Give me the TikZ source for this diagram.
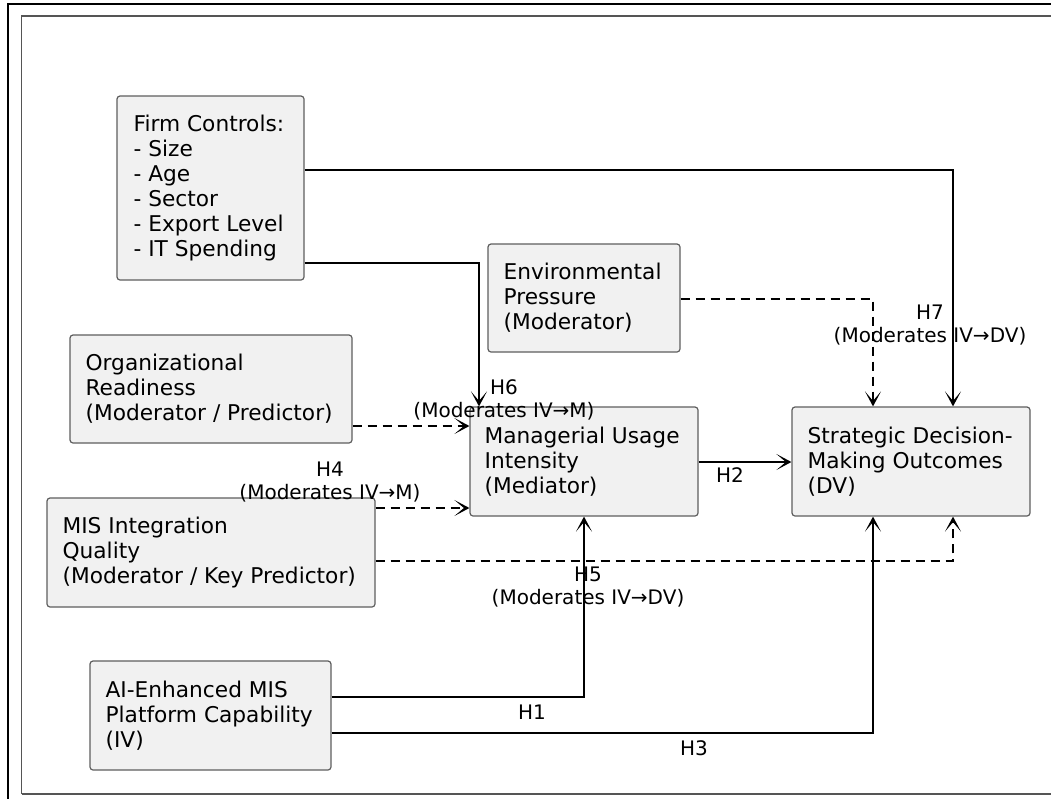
\documentclass[tikz,border=0pt]{standalone}
\usepackage{fontspec}
\setmainfont{DejaVu Sans}
\usetikzlibrary{arrows.meta}

\definecolor{boxfill}{HTML}{F1F1F1}
\definecolor{boxline}{HTML}{5E5E5E}
\definecolor{framegray}{HTML}{555555}

\tikzset{
  box/.style={draw=boxline, line width=1.2pt, fill=boxfill, rounded corners=3pt,
              rectangle, inner sep=0pt},
  boxtext/.style={anchor=west, align=left, inner sep=0pt,
                  font=\fontsize{21.7}{25}\selectfont},
  hlabel/.style={align=center, inner sep=0pt,
                 font=\fontsize{20}{23.5}\selectfont},
  link/.style={line width=1.5pt, draw=black,
               -{Stealth[length=15pt, width=16pt, inset=9.5pt]}},
  modlink/.style={link, dash pattern=on 9pt off 6pt},
}

\begin{document}
\begin{tikzpicture}[x=1pt, y=-1pt]
  \useasboundingbox (0,0) rectangle (1051,798);
  \clip (0,0) rectangle (1051,798);

  % page frames
  \draw[line width=2.2pt, black] (8,1200) -- (8,4) -- (1200,4);
  \draw[line width=1.6pt, framegray] (21.5,794) -- (21.5,16) -- (1200,16);
  \draw[line width=1.6pt, framegray] (21.5,794) -- (1200,794);

  % construct boxes
  \node[box, minimum width=187pt, minimum height=184pt] (firm) at (210.5,188) {};
  \node[box, minimum width=192pt, minimum height=108pt] (env)  at (584,298) {};
  \node[box, minimum width=282pt, minimum height=108pt] (org)  at (211,389) {};
  \node[box, minimum width=328pt, minimum height=109pt] (mis)  at (211,552.5) {};
  \node[box, minimum width=228pt, minimum height=109pt] (mui)  at (584,461.5) {};
  \node[box, minimum width=238pt, minimum height=109pt] (sdo)  at (911,461.5) {};
  \node[box, minimum width=241pt, minimum height=109pt] (ai)   at (210.5,715.5) {};

  % box texts
  \node[boxtext] (firm-t) at ([xshift=17pt]firm.west)
    {Firm Controls:\\- Size\\- Age\\- Sector\\- Export Level\\- IT Spending};
  \node[boxtext] (env-t) at ([xshift=16pt]env.west)
    {Environmental\\Pressure\\(Moderator)};
  \node[boxtext] (org-t) at ([xshift=16pt]org.west)
    {Organizational\\Readiness\\(Moderator / Predictor)};
  \node[boxtext] (mis-t) at ([xshift=16pt]mis.west)
    {MIS Integration\\Quality\\(Moderator / Key Predictor)};
  \node[boxtext] (mui-t) at ([xshift=15pt]mui.west)
    {Managerial Usage\\Intensity\\(Mediator)};
  \node[boxtext] (sdo-t) at ([xshift=16pt]sdo.west)
    {Strategic Decision-\\Making Outcomes\\(DV)};
  \node[boxtext] (ai-t) at ([xshift=16pt]ai.west)
    {AI-Enhanced MIS\\Platform Capability\\(IV)};

  % connectors
  \draw[link] (firm.east |- 0,170) -| (953,0 |- sdo.north);
  \draw[link] (firm.east |- 0,263) -| (479,0 |- mui.north);
  \draw[modlink] (env.east |- 0,299) -| (873,0 |- sdo.north);
  \draw[modlink] (org.east |- 0,426) -- (mui.west |- 0,426);
  \draw[modlink] (mis.east |- 0,508) -- (mui.west |- 0,508);
  \draw[modlink] (mis.east |- 0,561) -| (953,0 |- sdo.south);
  \draw[link] (mui.east |- 0,462) -- (sdo.west |- 0,462);
  \draw[link] (ai.east |- 0,697) -| (584,0 |- mui.south);
  \draw[link] (ai.east |- 0,733) -| (873,0 |- sdo.south);

  % hypothesis labels
  \node[hlabel] (h6) at (504,400) {H6\\(Moderates IV→M)};
  \node[hlabel] (h4) at (330,482) {H4\\(Moderates IV→M)};
  \node[hlabel] (h7) at (930,325) {H7\\(Moderates IV→DV)};
  \node[hlabel] (h5) at (588,587) {H5\\(Moderates IV→DV)};
  \node[hlabel] (h2) at (730,475) {H2};
  \node[hlabel] (h1) at (532,712) {H1};
  \node[hlabel] (h3) at (694,748) {H3};
\end{tikzpicture}
\end{document}
